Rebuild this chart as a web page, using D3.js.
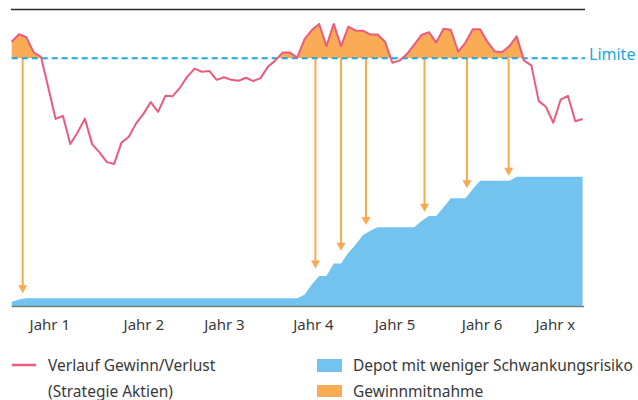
<!DOCTYPE html>
<html>
<head>
<meta charset="utf-8">
<script src="https://cdn.jsdelivr.net/npm/d3@7"></script>
<style>
  body { margin: 0; background: #fff; }
  svg text { font-family: "Noto Sans", "Open Sans", sans-serif; fill: #3a3a3a; }
</style>
</head>
<body>
<svg id="chart" width="638" height="400"></svg>
<script>
// Verlauf Gewinn/Verlust, one value per step
var gewinnVerlust = [
  89.3, 91.8, 90.8, 85.7, 84.2, 73.8, 63.2, 64.2, 54.7, 58.6,
  63.3, 54.6, 51.9, 48.6, 48.0, 55.2, 57.2, 61.7, 64.9, 68.9,
  65.6, 71.0, 70.9, 73.8, 77.5, 80.2, 79.1, 79.4, 76.4, 77.3,
  76.4, 76.1, 77.1, 76.0, 77.0, 80.8, 82.9, 85.6, 85.6, 83.9,
  90.1, 93.2, 95.3, 87.8, 95.3, 87.8, 94.4, 93.0, 93.0, 91.7,
  91.7, 89.3, 82.2, 82.9, 85.1, 88.3, 91.6, 92.5, 89.0, 93.7,
  93.3, 85.9, 89.0, 93.5, 93.5, 89.2, 86.0, 85.8, 87.8, 91.1,
  82.9, 81.3, 69.3, 67.2, 61.9, 69.7, 71.0, 62.4, 63.2
];

// Depot mit weniger Schwankungsrisiko
var depot = [
  1.4, 2.2, 2.6, 2.6, 2.6, 2.6, 2.6, 2.6, 2.6, 2.6,
  2.6, 2.6, 2.6, 2.6, 2.6, 2.6, 2.6, 2.6, 2.6, 2.6,
  2.6, 2.6, 2.6, 2.6, 2.6, 2.6, 2.6, 2.6, 2.6, 2.6,
  2.6, 2.6, 2.6, 2.6, 2.6, 2.6, 2.6, 2.6, 2.6, 2.6,
  3.8, 7.3, 10.1, 10.1, 14.4, 14.4, 18.0, 20.8, 24.0, 25.4,
  26.6, 26.6, 26.6, 26.6, 26.6, 26.6, 28.7, 30.4, 30.4, 33.4,
  36.4, 36.4, 36.4, 39.5, 42.3, 42.3, 42.3, 42.3, 42.3, 43.7,
  43.7, 43.7, 43.7, 43.7, 43.7, 43.7, 43.7, 43.7, 43.7
];

var limite = 83.7;

// Gewinnmitnahmen: where the arrow sits and where it points to
var arrowPos = [1.5, 41.5, 45.0, 48.4, 56.4, 62.2, 67.9];
var arrowTip = [4.3, 12.7, 18.7, 27.4, 31.8, 39.8, 44.0];

var yearPos = [5.14, 17.98, 29.0, 41.16, 52.3, 64.2, 74.2];
var yearLabels = ["Jahr 1", "Jahr 2", "Jahr 3", "Jahr 4", "Jahr 5", "Jahr 6", "Jahr x"];

var PINK = "#ea5b7e", ORANGE = "#f9ab55", BLUE = "#72c4ee", LIMIT = "#1aa9e1";

var svg = d3.select("#chart");

var x = d3.scaleLinear().domain([0, gewinnVerlust.length - 1]).range([11.7, 582.6]);
var y = d3.scaleLinear().domain([0, 100]).range([306, 10]);

// top rule
svg.append("line")
  .attr("x1", 11).attr("x2", 585)
  .attr("y1", 9.5).attr("y2", 9.5)
  .style("stroke", "#2b2b2b").style("stroke-width", 1.3);

// depot area
var depotArea = d3.area()
  .x(function(d, i) { return x(i); })
  .y0(y(0))
  .y1(function(d) { return y(d); });

svg.append("path")
  .datum(depot)
  .attr("d", depotArea)
  .style("fill", BLUE);

// orange = part above the limit
var defs = svg.append("defs");
defs.append("clipPath").attr("id", "above")
  .append("rect")
  .attr("x", 0).attr("y", 0)
  .attr("width", 638).attr("height", y(limite));

var gainArea = d3.area()
  .x(function(d, i) { return x(i); })
  .y0(y(limite))
  .y1(function(d) { return y(d); });

svg.append("path")
  .datum(gewinnVerlust)
  .attr("d", gainArea)
  .attr("clip-path", "url(#above)")
  .style("fill", ORANGE);

// arrows
var arrows = svg.append("g");
arrowPos.forEach(function(p, i) {
  var ax = x(p), tip = y(arrowTip[i]);
  arrows.append("line")
    .attr("x1", ax).attr("x2", ax)
    .attr("y1", y(limite)).attr("y2", tip - 7)
    .style("stroke", "#f9a94f").style("stroke-width", 2);
  arrows.append("path")
    .attr("d", "M" + (ax - 4.5) + "," + (tip - 8) + "L" + (ax + 4.5) + "," + (tip - 8) + "L" + ax + "," + tip + "Z")
    .style("fill", "#f9a94f");
});

// limit line + label
svg.append("line")
  .attr("x1", 11.7).attr("x2", 585)
  .attr("y1", y(limite)).attr("y2", y(limite))
  .style("stroke", LIMIT).style("stroke-width", 2)
  .style("stroke-dasharray", "6,4");

svg.append("text")
  .attr("x", 589).attr("y", y(limite) + 2)
  .style("font-size", "16px")
  .style("fill", LIMIT)
  .text("Limite");

// gain/loss line
var line = d3.line()
  .x(function(d, i) { return x(i); })
  .y(function(d) { return y(d); });

svg.append("path")
  .datum(gewinnVerlust)
  .attr("d", line)
  .style("fill", "none")
  .style("stroke", PINK)
  .style("stroke-width", 2)
  .style("stroke-linejoin", "round");

// x axis
var xAxis = d3.axisBottom(x)
  .tickValues(yearPos)
  .tickFormat(function(d, i) { return yearLabels[i]; })
  .tickSize(0)
  .tickSizeOuter(0)
  .tickPadding(13.5);

var gx = svg.append("g")
  .attr("transform", "translate(0," + y(0) + ")")
  .call(xAxis);
gx.select(".domain")
  .attr("d", "M11.7,0.5H584")
  .style("stroke", "#6f7f85").style("stroke-width", 1.5);
gx.selectAll("text")
  .style("font-size", "15px")
  .style("font-family", "'Noto Sans', sans-serif")
  .style("fill", "#3a3a3a");

// legend
var legend = svg.append("g").style("font-size", "15.5px");
legend.append("line")
  .attr("x1", 12).attr("x2", 36).attr("y1", 365).attr("y2", 365)
  .style("stroke", PINK).style("stroke-width", 2.5);
legend.append("text").attr("x", 48).attr("y", 370.5).text("Verlauf Gewinn/Verlust");
legend.append("text").attr("x", 48).attr("y", 396.5).text("(Strategie Aktien)");

legend.append("rect")
  .attr("x", 317).attr("y", 359).attr("width", 25).attr("height", 13)
  .style("fill", BLUE);
legend.append("text").attr("x", 353).attr("y", 370.5).text("Depot mit weniger Schwankungsrisiko");
legend.append("rect")
  .attr("x", 317).attr("y", 385).attr("width", 25).attr("height", 12)
  .style("fill", ORANGE);
legend.append("text").attr("x", 353).attr("y", 396.5).text("Gewinnmitnahme");
</script>
</body>
</html>
